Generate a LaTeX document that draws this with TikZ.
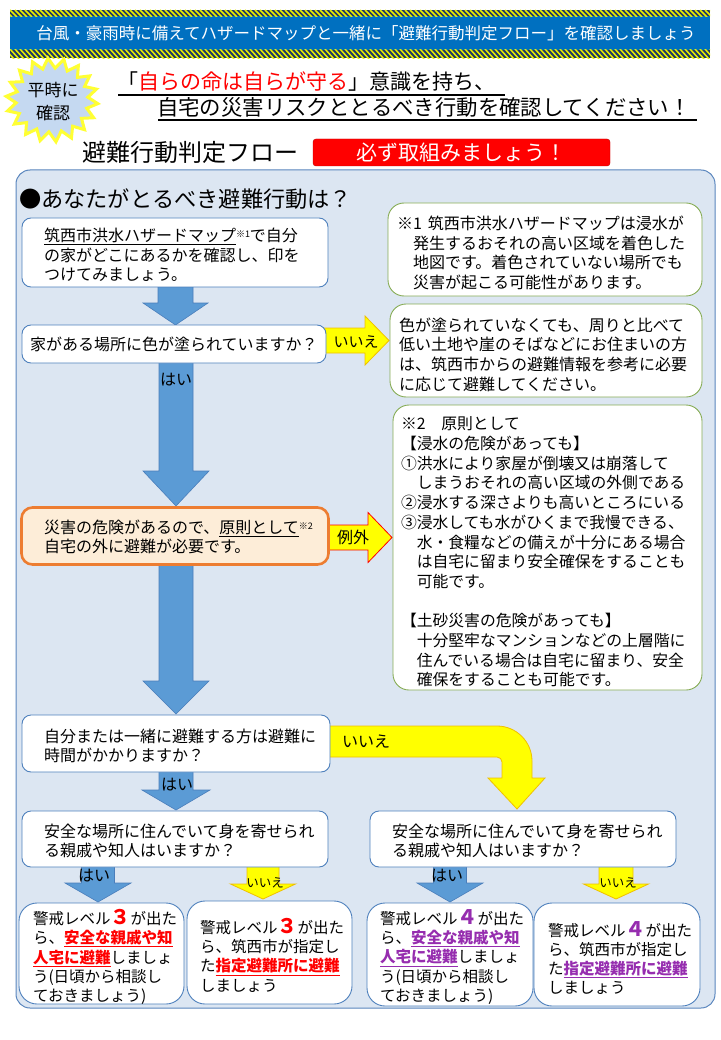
\documentclass[tikz,border=0pt]{standalone}
\usepackage{fontspec}
\setmainfont{Noto Sans CJK JP}
\usetikzlibrary{calc}
\definecolor{bandblue}{HTML}{0070C0}
\definecolor{navy}{HTML}{1F3864}
\definecolor{stripey}{HTML}{E8F000}
\definecolor{panelfill}{HTML}{DCE6F2}
\definecolor{panelline}{HTML}{5A86BE}
\definecolor{boxblue}{HTML}{4F81BD}
\definecolor{boxgreen}{HTML}{86AC55}
\definecolor{arrowblue}{HTML}{5B9BD5}
\definecolor{arrowline}{HTML}{4A7EBB}
\definecolor{ayellow}{HTML}{FFFF00}
\definecolor{agold}{HTML}{F0C000}
\definecolor{orangeb}{HTML}{ED7D31}
\definecolor{peach}{HTML}{FDEDD8}
\definecolor{myred}{HTML}{FF0000}
\definecolor{darkred}{HTML}{C00000}
\definecolor{burstfill}{HTML}{C5D9F1}
\definecolor{burstline}{HTML}{FFFF33}
\definecolor{mypurple}{HTML}{962DAF}
\newcommand\DnArrow[7]{\draw[#1] ({#2-#4},#3) -- ({#2+#4},#3) -- ({#2+#4},#5) -- ({#2+#6},#5) -- (#2,#7) -- ({#2-#6},#5) -- ({#2-#4},#5) -- cycle;}
\newcommand\RtArrow[7]{\draw[#1] (#3,{#2-#4}) -- (#5,{#2-#4}) -- (#5,{#2-#6}) -- (#7,#2) -- (#5,{#2+#6}) -- (#5,{#2+#4}) -- (#3,{#2+#4}) -- cycle;}
\newcommand\hlred[1]{{\color{myred}\bfseries\underline{#1}}}
\newcommand\hlpur[1]{{\color{mypurple}\bfseries\underline{#1}}}
\newcommand\bigdig[2]{{\fontsize{20}{19}\selectfont\bfseries\color{#1}#2}}
\newcommand\noteref[1]{\raisebox{4pt}{\fontsize{9}{9}\selectfont #1}}
\begin{document}
\begin{tikzpicture}[x=1pt,y=-1pt,
  every node/.style={inner sep=0pt, outer sep=0pt},
  wbox/.style={draw=boxblue, fill=white, line width=0.9pt, rounded corners=9pt},
  gbox/.style={draw=boxgreen, fill=white, line width=0.9pt, rounded corners=16pt},
  jbox/.style={draw=boxblue, fill=white, line width=0.9pt, rounded corners=18pt},
  txt/.style={anchor=west, align=left, font=\fontsize{16}{19.7}\selectfont},
  jtxt/.style={anchor=west, align=left, font=\fontsize{15.5}{19.3}\selectfont},
  barrow/.style={fill=arrowblue, draw=arrowline, line width=0.6pt},
  yarrow/.style={fill=ayellow, draw=agold, line width=0.8pt},
  lbl/.style={font=\fontsize{16}{18}\selectfont},
  slbl/.style={font=\fontsize{12.5}{14}\selectfont}]
\useasboundingbox (0,0) rectangle (720,1040);
\fill[white] (0,0) rectangle (720,1040);
% header band
\fill[bandblue] (10,10) rectangle (710,58);
\begin{scope}
  \clip (10,10) rectangle (710,16.5);
  \fill[navy] (10,10) rectangle (710,16.5);
  \foreach \i in {-10,-5,...,712} \draw[stripey, line width=1.5pt] (\i,10) -- (\i+7,17);
\end{scope}
\begin{scope}
  \clip (10,50) rectangle (710,58.5);
  \fill[navy] (10,50) rectangle (710,58.5);
  \foreach \i in {-10,-5,...,712} \draw[stripey, line width=1.5pt] (\i,49) -- (\i+9,59);
\end{scope}
\node[font=\fontsize{16.5}{20}\selectfont, text=white] (hdr) at (366,33.5) {台風・豪雨時に備えてハザードマップと一緒に「避難行動判定フロー」を確認しましょう};
% starburst
\draw[fill=burstfill, draw=burstline, line width=3pt, line join=miter, miter limit=20] plot[samples at={0,...,35}] ({52+(36+10*(1-mod(\x,2)))*cos(10*\x+5)}, {100+(32+10*(1-mod(\x,2)))*sin(10*\x+5)}) -- cycle;
\node[align=center, font=\fontsize{17}{23}\selectfont] (burst) at (53,102) {平時に\\確認};
% title lines
\node[anchor=west, font=\fontsize{21}{24}\selectfont] (line1) at (117,82) {「\textcolor{myred}{自らの命は自らが守る}」意識を持ち、};
\draw[line width=1.2pt] (118,95) -- (505,95);
\node[anchor=west, font=\fontsize{21.4}{24}\selectfont] (line2) at (157,107) {自宅の災害リスクととるべき行動を確認してください！};
\draw[line width=1.2pt] (158,120) -- (697,120);
\node[anchor=west, font=\fontsize{24}{26}\selectfont] (flowtitle) at (82,152) {避難行動判定フロー};
\node[draw=darkred, fill=myred, rounded corners=3pt, minimum width=297pt, minimum height=27pt, text=white, font=\fontsize{21}{24}\selectfont] (must) at (461.5,152.5) {必ず取組みましょう！};
% panel
\node[draw=panelline, fill=panelfill, line width=1pt, rounded corners=14pt, minimum width=699pt, minimum height=838pt] (panel) at (365.5,589) {};
\node[anchor=west, font=\fontsize{22.2}{26}\selectfont] (q) at (19,199) {●あなたがとるべき避難行動は？};
% arrows
\DnArrow{barrow}{175.5}{280}{17.5}{303}{32.5}{325}
\DnArrow{barrow}{176}{358}{17}{471}{33}{506}
\DnArrow{barrow}{176}{560}{17}{681}{33}{714}
\DnArrow{barrow}{176}{768}{17}{790}{34}{810}
\DnArrow{barrow}{98}{862}{16.5}{883}{33}{902}
\DnArrow{yarrow}{263}{862}{16}{884}{32.5}{899}
\DnArrow{barrow}{450}{862}{16.5}{883}{33}{902}
\DnArrow{yarrow}{616}{862}{17}{884}{32.5}{899}
\RtArrow{yarrow}{340.5}{320}{12.5}{365}{24.5}{389}
\RtArrow{fill=ayellow, draw=myred, line width=0.8pt}{537.5}{324}{12.5}{368}{25}{392}
\draw[yarrow] (325,726) -- (497,726) .. controls (516.3,726) and (532,741.7) .. (532,761) -- (532,778) -- (545,778) -- (517,809) -- (488,778) -- (502,778) -- (502,762) .. controls (502,759.2) and (499.8,757) .. (497,757) -- (325,757) -- cycle;
% arrow labels
\node[lbl] (hai1) at (176,380) {はい};
\node[lbl] (hai2) at (177,785) {はい};
\node[lbl] (hai3) at (94,876) {はい};
\node[lbl] (hai4) at (447,876) {はい};
\node[slbl] (iie3) at (265,883) {いいえ};
\node[slbl] (iie4) at (618,883) {いいえ};
\node[font=\fontsize{15}{17}\selectfont] (iie1) at (356,342) {いいえ};
\node[lbl] (reigai) at (353,537) {例外};
\node[lbl] (iie2) at (366,742) {いいえ};
% left boxes
\node[wbox, minimum width=306pt, minimum height=69pt] (A) at (175,252.5) {};
\node[txt] (At) at (44,255) {\underline{筑西市洪水ハザードマップ}\noteref{※1}で自分\\の家がどこにあるかを確認し、印を\\つけてみましょう。};
\node[wbox, minimum width=304pt, minimum height=38pt] (B) at (174,344) {};
\node[txt] (Bt) at (30,344.5) {家がある場所に色が塗られていますか？};
\node[draw=orangeb, fill=peach, line width=2.6pt, rounded corners=11pt, minimum width=307pt, minimum height=57pt] (E) at (175,536) {};
\node[txt] (Et) at (44,537) {災害の危険があるので、\underline{原則として}\noteref{※2}\\自宅の外に避難が必要です。};
\node[wbox, minimum width=308pt, minimum height=57pt] (G) at (176,743.5) {};
\node[txt] (Gt) at (44,746) {自分または一緒に避難する方は避難に\\時間がかかりますか？};
\node[wbox, minimum width=306pt, minimum height=56pt] (I) at (175,839) {};
\node[txt] (It) at (44,841) {安全な場所に住んでいて身を寄せられ\\る親戚や知人はいますか？};
\node[wbox, minimum width=306pt, minimum height=56pt] (H) at (523,839) {};
\node[txt] (Ht) at (392,841) {安全な場所に住んでいて身を寄せられ\\る親戚や知人はいますか？};
% right boxes
\node[gbox, minimum width=314pt, minimum height=93pt] (D) at (545,249.5) {};
\node[txt] (Dt) at (397,253) {※1\hspace{6pt}筑西市洪水ハザードマップは浸水が\\　発生するおそれの高い区域を着色した\\　地図です。着色されていない場所でも\\　災害が起こる可能性があります。};
\node[gbox, minimum width=312pt, minimum height=93pt] (C) at (546,350.5) {};
\node[txt] (Ct) at (399,354.5) {色が塗られていなくても、周りと比べて\\低い土地や崖のそばなどにお住まいの方\\は、筑西市からの避難情報を参考に必要\\に応じて避難してください。};
\node[gbox, minimum width=309pt, minimum height=285pt] (F) at (547.5,547.5) {};
\node[anchor=west, align=left, font=\fontsize{15.8}{19.7}\selectfont] (Ft) at (401,552) {※2　原則として\\【浸水の危険があっても】\\①洪水により家屋が倒壊又は崩落して\\　しまうおそれの高い区域の外側である\\②浸水する深さよりも高いところにいる\\③浸水しても水がひくまで我慢できる、\\　水・食糧などの備えが十分にある場合\\　は自宅に留まり安全確保をすることも\\　可能です。\\[19.7pt]【土砂災害の危険があっても】\\　十分堅牢なマンションなどの上層階に\\　住んでいる場合は自宅に留まり、安全\\　確保をすることも可能です。};
% bottom boxes
\node[jbox, minimum width=165pt, minimum height=101pt] (J1) at (101.5,953.5) {};
\node[jtxt] (J1t) at (33,957) {警戒レベル\bigdig{myred}{３}が出た\\ら、\hlred{安全な親戚や知}\\\hlred{人宅に避難}しましょ\\う(日頃から相談し\\ておきましょう)};
\node[jbox, minimum width=165pt, minimum height=103pt] (J2) at (269.5,952.5) {};
\node[jtxt] (J2t) at (200,955) {警戒レベル\bigdig{myred}{３}が出た\\ら、筑西市が指定し\\た\hlred{指定避難所に避難}\\しましょう};
\node[jbox, minimum width=166pt, minimum height=103pt] (J3) at (450,954.5) {};
\node[jtxt] (J3t) at (380,957) {警戒レベル\bigdig{mypurple}{４}が出た\\ら、\hlpur{安全な親戚や知}\\\hlpur{人宅に避難}しましょ\\う(日頃から相談し\\ておきましょう)};
\node[jbox, minimum width=166pt, minimum height=103pt] (J4) at (617,954.5) {};
\node[jtxt] (J4t) at (548,958) {警戒レベル\bigdig{mypurple}{４}が出た\\ら、筑西市が指定し\\た\hlpur{指定避難所に避難}\\しましょう};
\end{tikzpicture}
\end{document}
